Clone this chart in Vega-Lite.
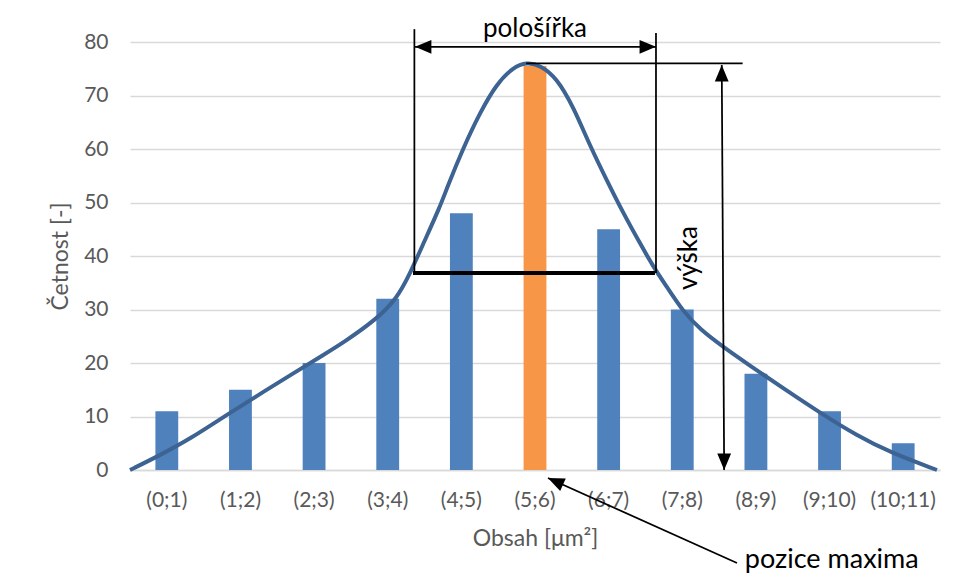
{
  "$schema": "https://vega.github.io/schema/vega-lite/v6.json",
  "width": 810,
  "height": 428,
  "autosize": {"type": "none"},
  "padding": {"left": 130, "top": 42, "right": 14, "bottom": 110},
  "background": "white",
  "config": {
    "font": "Lato",
    "view": {"stroke": null},
    "axis": {"labelFont": "Lato", "titleFont": "Lato", "labelColor": "#595959", "titleColor": "#595959", "titleFontWeight": "normal"}
  },
  "datasets": {
    "bars": [
      {"bin": "(0;1)", "y": 11, "group": "other"},
      {"bin": "(1;2)", "y": 15, "group": "other"},
      {"bin": "(2;3)", "y": 20, "group": "other"},
      {"bin": "(3;4)", "y": 32, "group": "other"},
      {"bin": "(4;5)", "y": 48, "group": "other"},
      {"bin": "(5;6)", "y": 75.5, "group": "max"},
      {"bin": "(6;7)", "y": 45, "group": "other"},
      {"bin": "(7;8)", "y": 30, "group": "other"},
      {"bin": "(8;9)", "y": 18, "group": "other"},
      {"bin": "(9;10)", "y": 11, "group": "other"},
      {"bin": "(10;11)", "y": 5, "group": "other"}
    ],
    "curve": [
      {"u": 0, "y": 0}, {"u": 0.385, "y": 2.6}, {"u": 0.838, "y": 6.0}, {"u": 1.29, "y": 10.1},
      {"u": 1.742, "y": 14.0}, {"u": 2.196, "y": 17.9}, {"u": 2.648, "y": 21.7}, {"u": 2.897, "y": 23.8},
      {"u": 3.35, "y": 28.2}, {"u": 3.622, "y": 32.0}, {"u": 3.802, "y": 36.7}, {"u": 3.983, "y": 42.3},
      {"u": 4.21, "y": 49.2}, {"u": 4.301, "y": 52.6}, {"u": 4.526, "y": 60.2}, {"u": 4.753, "y": 66.8},
      {"u": 4.98, "y": 72.2}, {"u": 5.205, "y": 75.3}, {"u": 5.387, "y": 76.2}, {"u": 5.568, "y": 75.7},
      {"u": 5.794, "y": 73.3}, {"u": 6.02, "y": 67.9}, {"u": 6.247, "y": 60.6}, {"u": 6.473, "y": 54.2},
      {"u": 6.699, "y": 48.0}, {"u": 6.925, "y": 42.4}, {"u": 7.106, "y": 38.0}, {"u": 7.288, "y": 34.3},
      {"u": 7.514, "y": 29.6}, {"u": 7.74, "y": 26.3}, {"u": 8.055, "y": 23.0}, {"u": 8.42, "y": 19.5},
      {"u": 8.87, "y": 15.3}, {"u": 9.415, "y": 10.3}, {"u": 9.868, "y": 6.5}, {"u": 10.32, "y": 3.3},
      {"u": 10.959, "y": 0}
    ],
    "rules": [
      {"u": 3.862, "u2": 3.862, "y": 36.8, "y2": 82.4},
      {"u": 7.143, "u2": 7.143, "y": 36.8, "y2": 81.7},
      {"u": 3.87, "u2": 7.143, "y": 79.1, "y2": 79.1},
      {"u": 5.38, "u2": 8.32, "y": 76.0, "y2": 76.0},
      {"u": 8.036, "u2": 8.069, "y": 75.7, "y2": 0},
      {"u": 5.676, "u2": 8.243, "y": -1.5, "y2": -17.38}
    ],
    "thick": [
      {"u": 3.843, "u2": 7.129, "y": 36.8, "y2": 36.8}
    ],
    "heads": [
      {"u": 3.87, "y": 79.1, "dir": "left"},
      {"u": 7.143, "y": 79.1, "dir": "right"},
      {"u": 8.036, "y": 75.7, "dir": "up"},
      {"u": 8.069, "y": 0, "dir": "down"},
      {"u": 5.676, "y": -1.5, "dir": "diag"}
    ],
    "notes": [
      {"u": 5.5, "y": 81.0, "text": "pološířka", "kind": "top"},
      {"u": 7.59, "y": 39.6, "text": "výška", "kind": "rot"},
      {"u": 8.35, "y": -18.3, "text": "pozice maxima", "kind": "left"}
    ]
  },
  "layer": [
    {
      "data": {"name": "bars"},
      "mark": {"type": "bar"},
      "encoding": {
        "x": {
          "field": "bin", "type": "ordinal", "sort": null,
          "scale": {"paddingInner": 0.69, "paddingOuter": 0.345},
          "axis": {
            "title": "Obsah [μm²]", "labelAngle": 0, "labelFontSize": 21, "titleFontSize": 23,
            "ticks": false, "domainColor": "#d9d9d9", "domainWidth": 1.5,
            "labelPadding": 30, "labelBaseline": "middle",
            "titleBaseline": "middle", "titleY": 68
          }
        },
        "y": {
          "field": "y", "type": "quantitative",
          "scale": {"domain": [0, 80], "nice": false},
          "axis": {
            "title": "Četnost [-]", "values": [0, 10, 20, 30, 40, 50, 60, 70, 80],
            "labelFontSize": 21, "titleFontSize": 23, "ticks": false, "domain": false,
            "gridColor": "#d9d9d9", "gridWidth": 1.5, "labelPadding": 22,
            "titleX": -70, "titleY": 214, "titleBaseline": "middle", "titleAlign": "center"
          }
        },
        "color": {
          "field": "group", "type": "nominal",
          "scale": {"domain": ["other", "max"], "range": ["#4F81BD", "#F79646"]},
          "legend": null
        }
      }
    },
    {
      "data": {"name": "curve"},
      "mark": {"type": "line", "interpolate": "basis", "strokeWidth": 4, "color": "#3d6393"},
      "encoding": {
        "x": {"field": "u", "type": "quantitative", "scale": {"domain": [0, 11], "nice": false, "zero": false}, "axis": null},
        "y": {"field": "y", "type": "quantitative", "scale": {"domain": [0, 80], "nice": false}, "axis": null}
      }
    },
    {
      "data": {"name": "rules"},
      "mark": {"type": "rule", "strokeWidth": 1.75, "color": "black"},
      "encoding": {
        "x": {"field": "u", "type": "quantitative", "scale": {"domain": [0, 11], "nice": false, "zero": false}, "axis": null},
        "x2": {"field": "u2"},
        "y": {"field": "y", "type": "quantitative", "scale": {"domain": [0, 80], "nice": false}, "axis": null},
        "y2": {"field": "y2"}
      }
    },
    {
      "data": {"name": "thick"},
      "mark": {"type": "rule", "strokeWidth": 4, "color": "black"},
      "encoding": {
        "x": {"field": "u", "type": "quantitative", "scale": {"domain": [0, 11], "nice": false, "zero": false}, "axis": null},
        "x2": {"field": "u2"},
        "y": {"field": "y", "type": "quantitative", "scale": {"domain": [0, 80], "nice": false}, "axis": null},
        "y2": {"field": "y2"}
      }
    },
    {
      "data": {"name": "heads"},
      "transform": [{"filter": "datum.dir === 'up'"}],
      "mark": {"type": "point", "shape": "M0,0L0.84,2L-0.84,2Z", "size": 270, "filled": true, "color": "black", "opacity": 1, "angle": 0},
      "encoding": {
        "x": {"field": "u", "type": "quantitative", "scale": {"domain": [0, 11], "nice": false, "zero": false}, "axis": null},
        "y": {"field": "y", "type": "quantitative", "scale": {"domain": [0, 80], "nice": false}, "axis": null}
      }
    },
    {
      "data": {"name": "heads"},
      "transform": [{"filter": "datum.dir === 'right'"}],
      "mark": {"type": "point", "shape": "M0,0L0.84,2L-0.84,2Z", "size": 270, "filled": true, "color": "black", "opacity": 1, "angle": 90},
      "encoding": {
        "x": {"field": "u", "type": "quantitative", "scale": {"domain": [0, 11], "nice": false, "zero": false}, "axis": null},
        "y": {"field": "y", "type": "quantitative", "scale": {"domain": [0, 80], "nice": false}, "axis": null}
      }
    },
    {
      "data": {"name": "heads"},
      "transform": [{"filter": "datum.dir === 'down'"}],
      "mark": {"type": "point", "shape": "M0,0L0.84,2L-0.84,2Z", "size": 270, "filled": true, "color": "black", "opacity": 1, "angle": 180},
      "encoding": {
        "x": {"field": "u", "type": "quantitative", "scale": {"domain": [0, 11], "nice": false, "zero": false}, "axis": null},
        "y": {"field": "y", "type": "quantitative", "scale": {"domain": [0, 80], "nice": false}, "axis": null}
      }
    },
    {
      "data": {"name": "heads"},
      "transform": [{"filter": "datum.dir === 'left'"}],
      "mark": {"type": "point", "shape": "M0,0L0.84,2L-0.84,2Z", "size": 270, "filled": true, "color": "black", "opacity": 1, "angle": 270},
      "encoding": {
        "x": {"field": "u", "type": "quantitative", "scale": {"domain": [0, 11], "nice": false, "zero": false}, "axis": null},
        "y": {"field": "y", "type": "quantitative", "scale": {"domain": [0, 80], "nice": false}, "axis": null}
      }
    },
    {
      "data": {"name": "heads"},
      "transform": [{"filter": "datum.dir === 'diag'"}],
      "mark": {"type": "point", "shape": "M0,0L0.84,2L-0.84,2Z", "size": 270, "filled": true, "color": "black", "opacity": 1, "angle": 294},
      "encoding": {
        "x": {"field": "u", "type": "quantitative", "scale": {"domain": [0, 11], "nice": false, "zero": false}, "axis": null},
        "y": {"field": "y", "type": "quantitative", "scale": {"domain": [0, 80], "nice": false}, "axis": null}
      }
    },
    {
      "data": {"name": "notes"},
      "transform": [{"filter": "datum.kind === 'top'"}],
      "mark": {"type": "text", "font": "Lato", "fontSize": 26, "color": "black", "align": "center", "baseline": "alphabetic"},
      "encoding": {
        "x": {"field": "u", "type": "quantitative", "scale": {"domain": [0, 11], "nice": false, "zero": false}, "axis": null},
        "y": {"field": "y", "type": "quantitative", "scale": {"domain": [0, 80], "nice": false}, "axis": null},
        "text": {"field": "text"}
      }
    },
    {
      "data": {"name": "notes"},
      "transform": [{"filter": "datum.kind === 'rot'"}],
      "mark": {"type": "text", "font": "Lato", "fontSize": 26, "color": "black", "align": "center", "baseline": "middle", "angle": 270},
      "encoding": {
        "x": {"field": "u", "type": "quantitative", "scale": {"domain": [0, 11], "nice": false, "zero": false}, "axis": null},
        "y": {"field": "y", "type": "quantitative", "scale": {"domain": [0, 80], "nice": false}, "axis": null},
        "text": {"field": "text"}
      }
    },
    {
      "data": {"name": "notes"},
      "transform": [{"filter": "datum.kind === 'left'"}],
      "mark": {"type": "text", "font": "Lato", "fontSize": 27, "color": "black", "align": "left", "baseline": "alphabetic"},
      "encoding": {
        "x": {"field": "u", "type": "quantitative", "scale": {"domain": [0, 11], "nice": false, "zero": false}, "axis": null},
        "y": {"field": "y", "type": "quantitative", "scale": {"domain": [0, 80], "nice": false}, "axis": null},
        "text": {"field": "text"}
      }
    }
  ],
  "resolve": {"scale": {"x": "independent"}, "axis": {"x": "independent", "y": "independent"}}
}
